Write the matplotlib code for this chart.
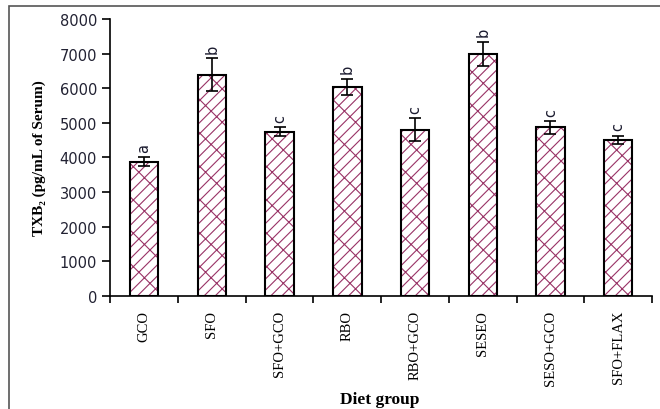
import matplotlib.pyplot as plt
from matplotlib.patches import Rectangle

groups = ["GCO", "SFO", "SFO+GCO", "RBO", "RBO+GCO", "SESEO", "SESO+GCO", "SFO+FLAX"]
txb2 = [3880, 6390, 4750, 6040, 4800, 6990, 4870, 4510]
sem = [130, 480, 120, 240, 330, 350, 180, 110]
letters = ["a", "b", "c", "b", "c", "b", "c", "c"]

plt.rcParams["hatch.linewidth"] = 0.8

fig = plt.figure(figsize=(6.6, 4.1), dpi=100)
ax = fig.add_axes([0.167, 0.276, 0.821, 0.675])

x = range(len(groups))
# hatch takes the edge colour, so draw the maroon hatch and the black outline apart
ax.bar(x, txb2, width=0.42, color="white", edgecolor="#993366", linewidth=0,
       hatch="//x", zorder=2)
ax.bar(x, txb2, width=0.42, fill=False, edgecolor="black", linewidth=1.5, zorder=3)
ax.errorbar(x, txb2, yerr=sem, fmt="none", ecolor="black", elinewidth=1.2,
            capsize=4.5, capthick=1.2, zorder=4)

for i, (v, e, s) in enumerate(zip(txb2, sem, letters)):
    ax.annotate(s, (i, v + e), xytext=(0, 4), textcoords="offset points",
                ha="center", va="bottom", rotation=90, fontsize=10.5,
                color="#1a1a2e")

ax.set_xlim(-0.5, len(groups) - 0.5)
ax.set_ylim(0, 8000)
ax.set_yticks(range(0, 8001, 1000))
ax.tick_params(axis="y", direction="out", length=6, width=1.2, labelsize=10.5,
               labelcolor="#222233")
ax.set_xticks([i - 0.5 for i in range(len(groups) + 1)])
ax.set_xticklabels([])
ax.tick_params(axis="x", which="major", direction="out", length=5, width=1.2)
ax.set_xticks(list(x), minor=True)
ax.set_xticklabels(groups, minor=True, rotation=90, family="Liberation Serif",
                   fontsize=10.5)
ax.tick_params(axis="x", which="minor", length=0, pad=10)

for side in ["top", "right"]:
    ax.spines[side].set_visible(False)
for side in ["left", "bottom"]:
    ax.spines[side].set_linewidth(1.2)

ax.set_ylabel("TXB₂ (pg/mL of Serum)", family=["Liberation Serif", "DejaVu Serif"],
              fontweight="bold", fontsize=11, labelpad=10)
fig.text(0.576, 0.025, "Diet group", family="Liberation Serif",
         fontweight="bold", fontsize=12.5, ha="center", va="center")

fig.patches.append(Rectangle((9 / 660, -0.1), 1.2, 1.1 - 7 / 410,
                             transform=fig.transFigure, fill=False,
                             edgecolor="#555555", linewidth=1.2))

fig.savefig("out.png", dpi=100)
